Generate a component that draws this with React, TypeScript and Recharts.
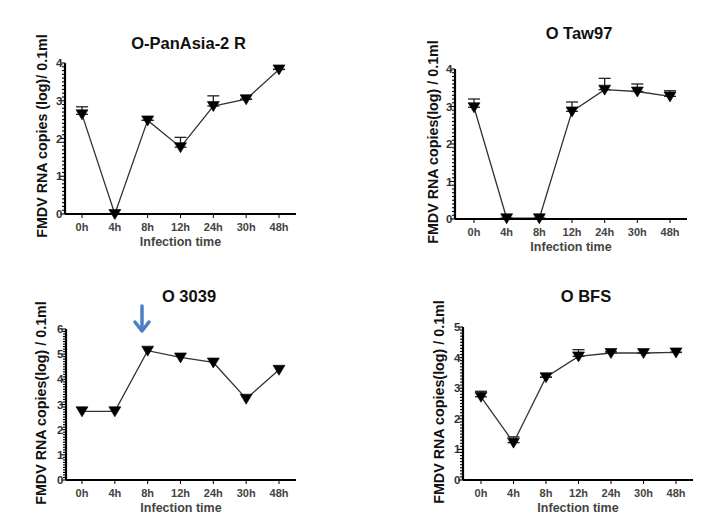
import React from 'react';
import { LineChart, Line, XAxis, YAxis, ErrorBar } from 'recharts';

const categories = ['0h', '4h', '8h', '12h', '24h', '30h', '48h'];

const panAsiaValues = [2.64, 0, 2.48, 1.77, 2.86, 3.04, 3.83];
const panAsiaErrors = [0.2, 0, 0, 0.26, 0.27, 0, 0];

const taw97Values = [2.98, 0.02, 0.02, 2.87, 3.45, 3.4, 3.27];
const taw97Errors = [0.22, 0, 0, 0.25, 0.3, 0.2, 0.15];

const o3039Values = [2.73, 2.73, 5.14, 4.87, 4.67, 3.23, 4.38];

const bfsValues = [2.72, 1.22, 3.36, 4.04, 4.15, 4.15, 4.17];
const bfsErrors = [0.18, 0.19, 0, 0.22, 0.04, 0, 0];

const titles = ['O-PanAsia-2 R', 'O Taw97', 'O 3039', 'O BFS'];
const yLabels = [
  'FMDV RNA copies (log)/ 0.1ml',
  'FMDV RNA copies(log) / 0.1ml',
  'FMDV RNA copies(log) / 0.1ml',
  'FMDV RNA copies(log) / 0.1ml',
];
const xLabel = 'Infection time';
const yMaxes = [4, 4, 6, 5];

const FONT = '"Liberation Sans", Arial, sans-serif';

const panels = [
  { values: panAsiaValues, errors: panAsiaErrors, left: 0, top: 0, axisX: 65, plotRight: 296, plotTop: 63, axisY: 214, padL: 17, padR: 17, titleY: 49, yLabelX: 47, yLabelY: 136 },
  { values: taw97Values, errors: taw97Errors, left: 364, top: 0, axisX: 91, plotRight: 323, plotTop: 69, axisY: 219, padL: 19, padR: 17, titleY: 39, yLabelX: 74, yLabelY: 142 },
  { values: o3039Values, errors: null as number[] | null, left: 0, top: 263, axisX: 66, plotRight: 296, plotTop: 66, axisY: 217, padL: 16, padR: 17, titleY: 38.5, yLabelX: 46, yLabelY: 140 },
  { values: bfsValues, errors: bfsErrors, left: 364, top: 263, axisX: 99, plotRight: 329, plotTop: 64, axisY: 217, padL: 18, padR: 17, titleY: 39, yLabelX: 80, yLabelY: 139 },
];

const makeYTick = (axisX: number) => (props: any) => {
  const { y, payload } = props;
  const v = payload.value as number;
  const isMajor = Math.abs(v - Math.round(v)) < 1e-6;
  return (
    <g>
      <line x1={axisX - (isMajor ? 5 : 3)} x2={axisX} y1={y} y2={y} stroke="#000" strokeWidth={1.1} />
      {isMajor && (
        <text x={axisX - 2.5} y={y + 4} textAnchor="end" fontFamily={FONT} fontWeight="bold" fontSize={11.5} fill="#333">
          {Math.round(v)}
        </text>
      )}
    </g>
  );
};

const makeXTick = (axisY: number) => (props: any) => {
  const { x, payload } = props;
  return (
    <g>
      <line x1={x} x2={x} y1={axisY} y2={axisY + 4} stroke="#000" strokeWidth={1} />
      <text x={x} y={axisY + 17} textAnchor="middle" fontFamily={FONT} fontWeight="bold" fontSize={11} fill="#444">
        {payload.value}
      </text>
    </g>
  );
};

const TriangleDot = (props: any) => {
  const { cx, cy, index } = props;
  if (cx == null || cy == null) return <g key={index} />;
  return (
    <path
      key={index}
      d={`M${cx - 6},${cy - 4.5} L${cx + 6},${cy - 4.5} L${cx},${cy + 5.5} Z`}
      fill="#000"
      stroke="#000"
      strokeWidth={0.6}
    />
  );
};

function Panel({ p, idx }: { p: any; idx: number }) {
  const data = categories.map((c, i) => ({
    time: c,
    value: p.values[i],
    err: p.errors ? [0, p.errors[i]] : [0, 0],
  }));
  const yMax = yMaxes[idx];
  const ticks: number[] = [];
  for (let k = 0; k <= yMax * 10; k++) ticks.push(k / 10);
  return (
    <div style={{ position: 'absolute', left: p.left, top: p.top, width: 364, height: 263 }}>
      <LineChart
        width={364}
        height={263}
        data={data}
        margin={{ top: p.plotTop, right: 364 - p.plotRight, bottom: 0, left: 0 }}
      >
        <XAxis
          dataKey="time"
          type="category"
          padding={{ left: p.padL, right: p.padR }}
          height={263 - p.axisY}
          interval={0}
          axisLine={{ stroke: '#000', strokeWidth: 2 }}
          tickLine={false}
          tick={makeXTick(p.axisY)}
        />
        <YAxis
          type="number"
          domain={[0, yMax]}
          ticks={ticks}
          interval={0}
          width={p.axisX}
          axisLine={{ stroke: '#000', strokeWidth: 2.2 }}
          tickLine={false}
          tick={makeYTick(p.axisX)}
        />
        <Line
          type="linear"
          dataKey="value"
          stroke="#333"
          strokeWidth={1.3}
          dot={TriangleDot}
          activeDot={false}
          isAnimationActive={false}
        >
          {p.errors && (
            <ErrorBar dataKey="err" width={6} stroke="#222" strokeWidth={1.3} direction="y" isAnimationActive={false} />
          )}
        </Line>
      </LineChart>
    </div>
  );
}

export default function App() {
  return (
    <div style={{ position: 'absolute', left: 0, top: 0, width: 728, height: 526, background: '#fff' }}>
      {panels.map((p, i) => (
        <Panel key={i} p={p} idx={i} />
      ))}
      <svg width={728} height={526} style={{ position: 'absolute', left: 0, top: 0, pointerEvents: 'none' }}>
        {panels.map((p, i) => {
          const cx = p.left + (p.axisX + p.plotRight) / 2;
          return (
            <g key={i}>
              <text x={cx + 8} y={p.top + p.titleY} textAnchor="middle" fontFamily={FONT} fontWeight="bold" fontSize={16.5} fill="#111">
                {titles[i]}
              </text>
              <text x={cx} y={p.top + p.axisY + 32} textAnchor="middle" fontFamily={FONT} fontWeight="bold" fontSize={12.5} fill="#444">
                {xLabel}
              </text>
              <text
                x={p.left + p.yLabelX}
                y={p.top + p.yLabelY}
                transform={`rotate(-90 ${p.left + p.yLabelX} ${p.top + p.yLabelY})`}
                textAnchor="middle"
                fontFamily={FONT}
                fontWeight="bold"
                fontSize={14.3}
                fill="#111"
              >
                {yLabels[i]}
              </text>
            </g>
          );
        })}
        <g stroke="#4a80c4" strokeWidth={3.5} fill="none" strokeLinecap="round" strokeLinejoin="round">
          <line x1={142} y1={306} x2={142} y2={329} />
          <polyline points="135,322 142,331 149,322" />
        </g>
      </svg>
    </div>
  );
}
